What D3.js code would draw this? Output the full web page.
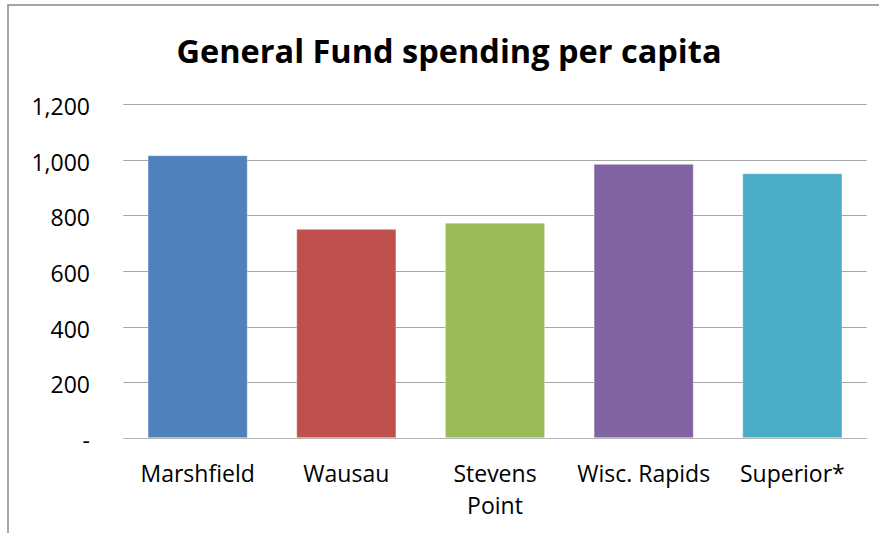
<!DOCTYPE html>
<html>
<head>
<meta charset="utf-8">
<script src="https://cdn.jsdelivr.net/npm/d3@7"></script>
<style>
  body { margin: 0; background: #fff; }
  svg { display: block; font-family: "Open Sans", "Noto Sans", sans-serif; }
</style>
</head>
<body>
<svg id="chart" width="879" height="533"></svg>
<script>
// data
const cities = ["Marshfield", "Wausau", "Stevens Point", "Wisc. Rapids", "Superior*"];
const spending = [1015, 750, 772, 984, 950];
const barColors = ["#4F81BD", "#C0504D", "#9BBB59", "#8064A2", "#4BACC6"];
const yTicks = [0, 200, 400, 600, 800, 1000, 1200];
const yTickLabels = ["-", "200", "400", "600", "800", "1,000", "1,200"];
const title = "General Fund spending per capita";

const width = 879, height = 533;
const margin = { top: 104.3, right: 12.3, bottom: 95.3, left: 123.3 };

const svg = d3.select("#chart");

// chart frame
svg.append("rect")
  .attr("x", 8).attr("y", 5)
  .attr("width", 900).attr("height", 600)
  .attr("fill", "none")
  .attr("stroke", "#868686")
  .attr("stroke-width", 1.5);

const x = d3.scaleBand(cities, [margin.left, width - margin.right])
  .paddingInner(0.333)
  .paddingOuter(0.1665);
const y = d3.scaleLinear([0, 1200], [height - margin.bottom, margin.top]);

// gridlines
svg.append("g")
  .selectAll("line")
  .data(yTicks)
  .join("line")
    .attr("x1", margin.left)
    .attr("x2", width - margin.right)
    .attr("y1", d => Math.round(y(d)) + 0.5)
    .attr("y2", d => Math.round(y(d)) + 0.5)
    .attr("stroke", d => d === 0 ? "#b3b3b3" : "#a6a6a6")
    .attr("stroke-width", 1.2);

// y axis labels
const yAxis = d3.axisLeft(y)
  .tickValues(yTicks)
  .tickFormat((d, i) => yTickLabels[i])
  .tickSize(0)
  .tickPadding(0);

svg.append("g")
  .attr("transform", "translate(90,0)")
  .call(yAxis)
  .call(g => g.select(".domain").remove())
  .call(g => g.selectAll("text")
    .attr("dy", null)
    .attr("y", 10.5)
    .attr("fill", "#000")
    .style("font-size", "23px")
    .style("font-family", "\"Open Sans\", sans-serif"));

// bars
svg.append("g")
  .selectAll("rect")
  .data(cities)
  .join("rect")
    .attr("x", d => x(d))
    .attr("width", x.bandwidth())
    .attr("y", (d, i) => y(spending[i]))
    .attr("height", (d, i) => y(0) - y(spending[i]))
    .attr("fill", (d, i) => barColors[i])
    .attr("stroke", "rgba(255,255,255,0.35)")
    .attr("stroke-width", 1);

// category labels (wrapped like the original)
const xAxis = d3.axisBottom(x).tickSize(0).tickPadding(0);
svg.append("g")
  .attr("transform", `translate(0,${y(0)})`)
  .call(xAxis)
  .call(g => g.select(".domain").remove())
  .call(g => g.selectAll("text")
    .attr("y", 0)
    .attr("dy", null)
    .attr("fill", "#000")
    .style("font-size", "23px")
    .style("font-family", "\"Open Sans\", sans-serif")
    .each(function(d) {
      const t = d3.select(this);
      const words = d === "Stevens Point" ? ["Stevens", "Point"] : [d];
      t.text(null);
      words.forEach((w, i) => {
        t.append("tspan").attr("x", 0).attr("y", 44 + i * 32.3).text(w);
      });
    }));

// title
svg.append("text")
  .attr("x", 449)
  .attr("y", 63)
  .attr("text-anchor", "middle")
  .style("font-size", "32.5px")
  .style("font-weight", "bold")
  .attr("fill", "#000")
  .text(title);
</script>
</body>
</html>
